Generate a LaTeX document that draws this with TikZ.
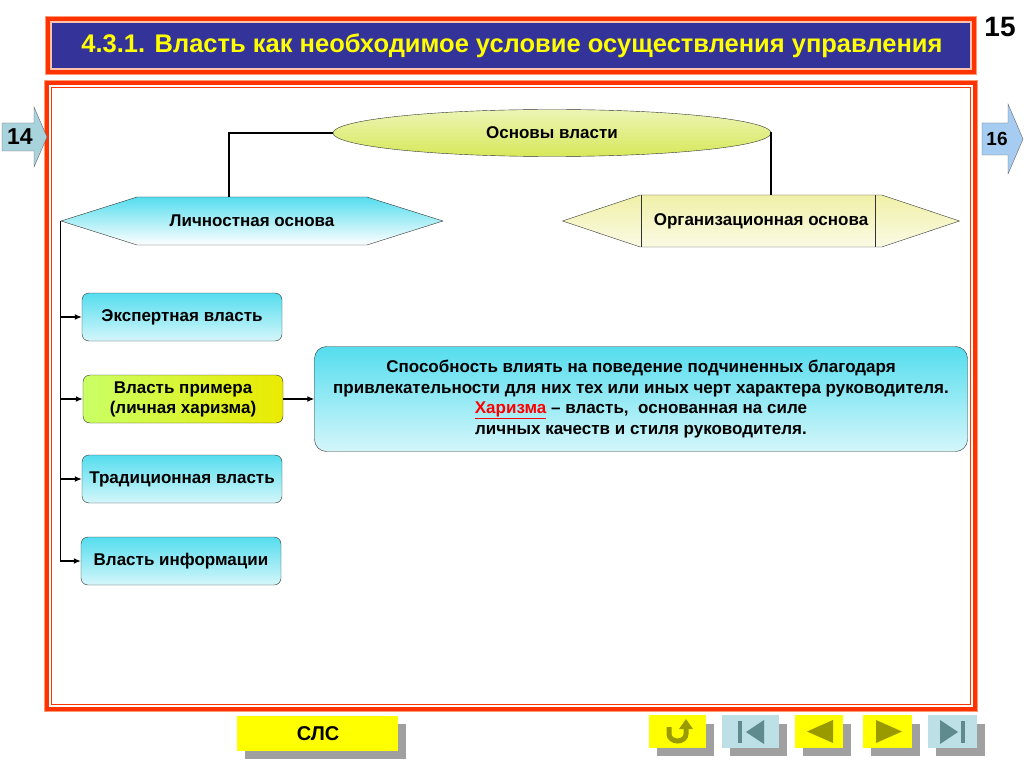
\documentclass[tikz,border=0pt]{standalone}
\usepackage{fontspec}
\setmainfont{Liberation Sans}
\usetikzlibrary{arrows.meta,positioning,shapes.geometric,shapes.symbols}

\definecolor{FrameRed}{HTML}{FF3300}
\definecolor{FrameLight}{HTML}{FF9977}
\definecolor{TitleBlue}{HTML}{333399}
\definecolor{BoxCyan}{HTML}{55DDEE}
\definecolor{OvalGreen}{HTML}{D6E85A}
\definecolor{OrgYellow}{HTML}{F0F0A8}
\definecolor{NavYellow}{HTML}{FFFF00}
\definecolor{NavBlue}{HTML}{BCE0E6}
\definecolor{NavGray}{HTML}{A0A0A0}
\definecolor{IconOlive}{HTML}{999900}
\definecolor{IconSlate}{HTML}{5F8A8E}
\definecolor{PageBlue}{HTML}{A6CCF2}
\definecolor{PageGray}{HTML}{A8D2DC}

\begin{document}
\begin{tikzpicture}[
        x=1pt, y=-1pt, font=\bfseries\fontsize{17}{20}\selectfont,
        PowerBox/.style={draw=black!80, rounded corners=7pt, top color=BoxCyan, bottom color=BoxCyan!25, minimum width=200pt, minimum height=48pt, align=center, inner sep=2pt},
        HexBase/.style={draw=black!80, signal, signal to=west and east, minimum height=48pt, inner sep=0pt},
        NavShadow/.style={fill=NavGray},
        ]
    \useasboundingbox (0,0) rectangle (1024,767);
    % title
    \fill[FrameLight] (45,16) rectangle (977,75);
    \fill[FrameRed] (46,17) rectangle (976,74);
    \fill[FrameLight!60] (50,21) rectangle (972,70);
    \fill[TitleBlue] (52,23) rectangle (970,68);
    \node[font=\bfseries\fontsize{25.5}{28}\selectfont, text=NavYellow] (title) at (512,46) {4.3.1. Власть как необходимое условие осуществления управления};
    \node[font=\bfseries\fontsize{28}{30}\selectfont] (page) at (1000,27) {15};
    % main frame
    \draw[FrameLight, line width=1pt] (44.5,80.5) rectangle (977.5,711.5);
    \draw[FrameRed, line width=4pt] (47,83) rectangle (975,709);
    \draw[FrameRed, line width=1.2pt] (51.5,87.5) rectangle (970.5,704.5);
    % page arrows
    \draw[black!60, fill=PageGray] (2,123) -- (34,123) -- (34,107) -- (47,137) -- (34,167) -- (34,151) -- (2,151) -- cycle;
    \node[font=\bfseries\fontsize{23}{26}\selectfont] (prev) at (20,137) {14};
    \draw[black!60, fill=PageBlue] (982,123) -- (1008,123) -- (1008,104) -- (1023,139) -- (1008,174) -- (1008,155) -- (982,155) -- cycle;
    \node[font=\bfseries\fontsize{19}{22}\selectfont] (next) at (997,139) {16};

    % diagram
    \node[ellipse, draw=black!80, top color=OvalGreen!45, bottom color=OvalGreen, minimum width=438pt, minimum height=47pt, font=\bfseries\fontsize{17}{20}\selectfont] (osnovy) at (552,133) {Основы власти};
    \node[HexBase, signal pointer angle=35, minimum width=382pt, top color=BoxCyan, bottom color=white] (lichn) at (252,221) {Личностная основа};
    \node[HexBase, signal pointer angle=37, minimum width=397pt, minimum height=52pt, top color=OrgYellow, bottom color=OrgYellow!30,
        path picture={\draw[black!80] ([xshift=79pt]path picture bounding box.south west) -- ([xshift=79pt]path picture bounding box.north west);
                      \draw[black!80] ([xshift=-84pt]path picture bounding box.south east) -- ([xshift=-84pt]path picture bounding box.north east);}] (org) at (761,221) {Организационная основа};

    \node[PowerBox] (ekspert) at (182,317) {Экспертная власть};
    \node[PowerBox, top color=white, left color=green!35!yellow!60!white, right color=NavYellow!92!black] (primer) at (183,399) {Власть примера\\(личная харизма)};
    \node[PowerBox] (tradic) at (182,479) {Традиционная власть};
    \node[PowerBox] (inform) at (181,561) {Власть информации};
    \node[PowerBox, rounded corners=12pt, minimum width=653pt, minimum height=105pt, font=\bfseries\fontsize{17}{20.5}\selectfont] (harizma) at (641,399)
        {Способность влиять на поведение подчиненных благодаря\\привлекательности для них тех или иных черт характера руководителя.\\\textcolor{red}{\underline{Харизма}} -- власть,~ основанная на силе\\личных качеств и стиля руководителя.};

    \begin{scope}[line width=1.3pt]
        \draw (osnovy.west) -| ([xshift=-23pt]lichn.north);
        \draw (osnovy.east) -| ([xshift=10pt]org.north);
    \end{scope}
    \begin{scope}[line width=1.3pt, -{Latex[length=7pt, width=6pt]}]
        \draw (lichn.west) |- (inform.west);
        \draw (lichn.west |- ekspert.west) -- (ekspert.west);
        \draw (lichn.west |- primer.west) -- (primer.west);
        \draw (lichn.west |- tradic.west) -- (tradic.west);
        \draw (primer.east) -- (primer.east -| harizma.west);
    \end{scope}

    % buttons
    \fill[NavShadow] (245,724) rectangle (406,759);
    \fill[NavYellow] (237,716) rectangle (398,751);
    \node[font=\bfseries\fontsize{20}{22}\selectfont] (sls) at (318,734) {СЛС};
    \foreach \xa/\xb/\col in {649/706/NavYellow, 722/779/NavBlue, 795/843/NavYellow, 863/912/NavYellow, 928/977/NavBlue} {
        \fill[NavShadow] (\xa+8,724) rectangle (\xb+8,756);
        \fill[\col] (\xa,715) rectangle (\xb,748);
    }
    \draw[IconOlive, line width=5pt] (669,727) -- (669,734) arc[start angle=180, end angle=360, x radius=8.5pt, y radius=7pt] -- (686,729);
    \fill[IconOlive] (679,729) -- (693,729) -- (686,719) -- cycle;
    \fill[IconSlate] (738,721) rectangle (742,743);
    \fill[IconSlate] (746,732) -- (764,720) -- (764,744) -- cycle;
    \fill[IconOlive] (807,731.5) -- (833,720) -- (833,743) -- cycle;
    \fill[IconOlive] (902,731.5) -- (876,720) -- (876,743) -- cycle;
    \fill[IconSlate] (958,732) -- (940,720) -- (940,744) -- cycle;
    \fill[IconSlate] (961,721) rectangle (965,743);
\end{tikzpicture}
\end{document}
